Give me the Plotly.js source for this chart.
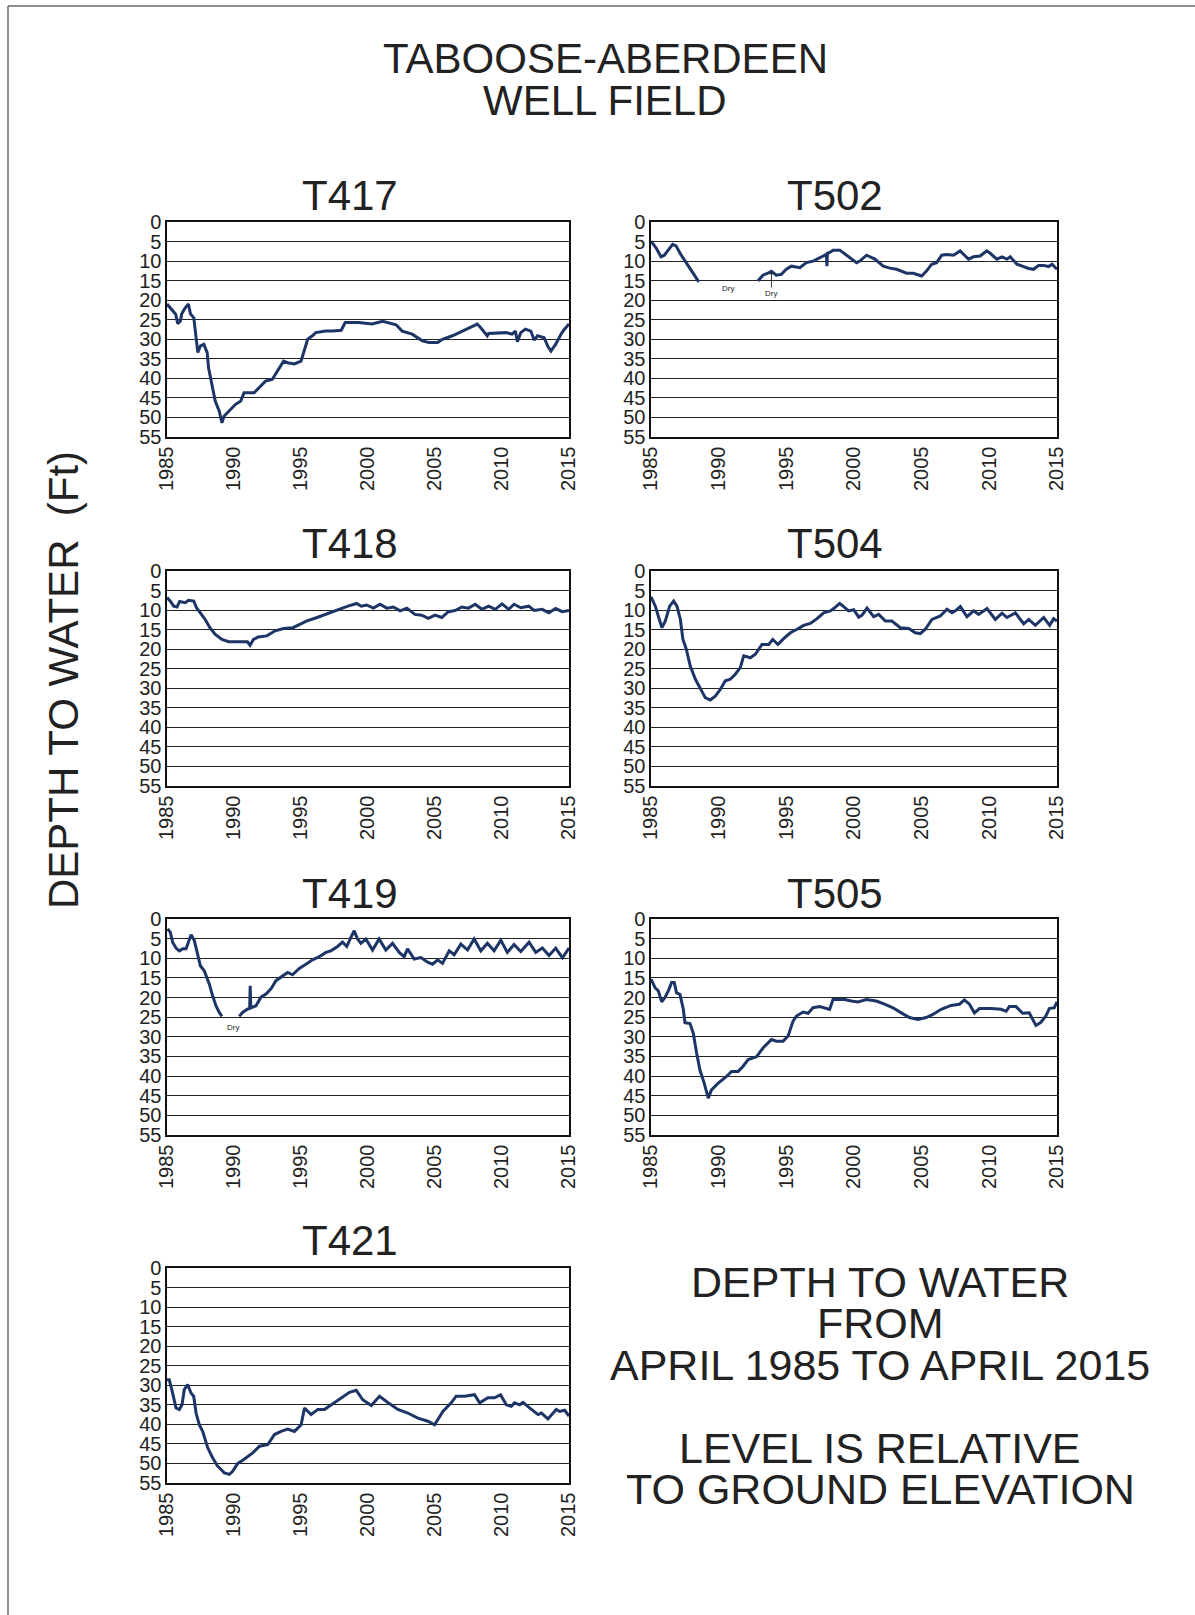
<!DOCTYPE html>
<html>
<head>
<meta charset="utf-8">
<script src="https://cdn.plot.ly/plotly-3.0.1.min.js"></script>
<style>html,body{margin:0;padding:0;background:#fff;}</style>
</head>
<body>
<div id="chart" style="width:1195px;height:1615px;"></div>
<script>
// ---------------- DATA ----------------
const yearTicks = [1985, 1990, 1995, 2000, 2005, 2010, 2015];
const depthTicks = [0, 5, 10, 15, 20, 25, 30, 35, 40, 45, 50, 55];
const wellNames = ['T417', 'T502', 'T418', 'T504', 'T419', 'T505', 'T421'];

const t417Year = [1985.0,1985.4,1985.65,1985.8,1986.0,1986.1,1986.35,1986.6,1986.75,1987.0,1987.1,1987.25,1987.3,1987.5,1987.75,1988.0,1988.1,1988.4,1988.6,1988.9,1989.1,1989.25,1989.6,1990.1,1990.5,1990.75,1991.5,1992.1,1992.35,1992.85,1993.1,1993.5,1993.7,1994.0,1994.5,1995.0,1995.2,1995.5,1995.85,1996.1,1996.85,1997.35,1998.0,1998.3,1999.3,2000.3,2001.1,2002.1,2002.55,2003.3,2004.05,2004.55,2005.2,2005.55,2006.3,2007.05,2007.55,2008.15,2008.4,2008.9,2009.0,2010.3,2010.75,2011.0,2011.15,2011.4,2011.75,2012.15,2012.4,2012.65,2013.15,2013.4,2013.65,2014.0,2014.4,2014.6,2015.0];
const t417Depth = [21.0,22.7,23.6,26.0,25.3,23.5,22.0,21.0,23.5,24.5,27.0,31.3,33.4,31.7,31.3,33.4,37.3,42.4,45.8,48.4,51.4,49.7,48.4,46.7,45.8,43.7,43.7,41.6,40.7,40.3,39.0,36.8,35.6,36.0,36.3,35.6,33.4,30.0,29.1,28.3,27.9,27.9,27.7,25.7,25.7,26.1,25.4,26.3,27.9,28.7,30.4,30.8,30.8,30.0,29.1,27.9,27.0,26.1,27.0,29.1,28.5,28.3,28.7,27.9,30.6,28.3,27.4,27.9,30.2,29.1,29.6,31.7,33.0,31.3,28.7,27.7,26.1];

const t502Year = [1985.0,1985.37,1985.74,1985.99,1986.23,1986.6,1986.85,1987.2,1987.6,1987.84,1988.2,1988.53,1990.7,1992.9,1993.27,1993.64,1993.9,1994.26,1994.63,1995.0,1995.37,1996.0,1996.48,1996.98,1997.47,1997.96,1998.0,1998.04,1998.2,1998.46,1998.95,1999.44,2000.19,2000.43,2000.93,2001.54,2002.16,2002.65,2003.15,2003.89,2004.38,2005.0,2005.37,2005.74,2006.11,2006.48,2006.85,2007.35,2007.84,2008.46,2008.83,2009.32,2009.81,2010.06,2010.56,2010.93,2011.3,2011.54,2012.04,2012.53,2012.9,2013.27,2013.64,2014.0,2014.38,2014.63,2015.0];
const t502Depth = [4.9,6.6,8.9,8.5,7.4,5.7,6.1,8.3,10.4,11.7,13.8,15.3,null,15.1,13.6,13.1,12.6,13.6,13.4,12.1,11.3,11.7,10.4,10.0,9.1,8.3,11.3,8.0,7.8,7.2,7.2,8.5,10.4,10.0,8.5,9.5,11.3,11.8,12.1,13.1,13.1,13.8,12.5,10.8,10.4,8.5,8.3,8.5,7.4,9.5,8.9,8.7,7.4,8.0,9.5,8.9,9.5,8.9,10.8,11.4,11.9,12.1,11.1,11.1,11.4,10.8,12.1];

const t418Year = [1985.0,1985.25,1985.5,1985.75,1985.94,1986.37,1986.6,1987.0,1987.2,1987.5,1987.85,1988.2,1988.6,1989.1,1989.6,1990.2,1991.0,1991.2,1991.45,1991.8,1992.45,1993.07,1993.7,1994.4,1994.93,1995.4,1996.2,1996.8,1997.4,1997.9,1998.5,1999.15,1999.5,1999.9,2000.4,2000.9,2001.4,2001.9,2002.4,2002.9,2003.5,2004.0,2004.5,2005.0,2005.5,2006.0,2006.5,2007.0,2007.5,2008.0,2008.5,2009.0,2009.5,2010.0,2010.5,2010.9,2011.4,2012.0,2012.4,2013.0,2013.5,2014.0,2014.5,2015.0];
const t418Depth = [6.8,7.7,9.0,9.2,7.8,8.1,7.5,7.7,9.4,10.7,12.4,14.5,16.2,17.5,18.1,18.1,18.1,19.0,17.5,16.9,16.6,15.3,14.7,14.5,13.5,12.8,11.9,11.1,10.4,9.8,9.0,8.3,9.0,8.7,9.5,8.5,9.5,9.2,10.2,9.5,11.1,11.3,12.1,11.3,11.9,10.4,10.1,9.2,9.5,8.5,9.8,9.0,9.8,8.4,9.8,8.5,9.4,9.0,10.1,9.8,10.7,9.6,10.4,10.1];

const t504Year = [1985.0,1985.32,1985.57,1985.81,1986.06,1986.38,1986.67,1986.92,1987.17,1987.36,1987.61,1987.9,1988.28,1988.65,1989.01,1989.38,1989.75,1990.12,1990.49,1990.86,1991.23,1991.6,1991.85,1992.34,1992.71,1993.2,1993.7,1994.0,1994.38,1994.8,1995.3,1995.79,1996.28,1996.77,1997.27,1997.76,1998.25,1998.5,1998.94,1999.24,1999.6,1999.98,2000.35,2000.6,2000.96,2001.45,2001.82,2002.32,2002.8,2003.42,2004.04,2004.53,2004.9,2005.27,2005.76,2006.38,2006.87,2007.24,2007.49,2007.86,2008.35,2008.84,2009.21,2009.83,2010.44,2010.94,2011.3,2011.92,2012.54,2012.91,2013.4,2014.02,2014.46,2014.75,2015.0];
const t504Depth = [6.6,9.0,11.9,14.5,12.8,9.0,7.7,9.0,12.4,17.5,20.0,24.3,27.7,30.3,32.4,33.0,32.0,30.3,28.1,27.7,26.4,24.7,21.7,22.2,21.3,18.8,18.8,17.5,18.8,17.3,15.8,14.9,13.9,13.4,12.2,10.7,10.2,9.6,8.3,9.1,10.2,9.9,11.8,11.3,9.5,11.7,11.1,12.8,12.8,14.5,14.7,15.8,16.0,14.9,12.4,11.5,9.8,10.7,10.2,9.1,11.7,10.2,11.1,9.6,12.4,10.8,11.9,10.7,13.5,12.4,13.9,11.9,13.9,12.2,12.8];

const t419Year = [1985.05,1985.25,1985.42,1985.67,1985.92,1986.17,1986.42,1986.62,1986.8,1987.04,1987.29,1987.49,1987.78,1988.16,1988.4,1988.65,1988.9,1989.1,1989.75,1990.39,1990.64,1991.02,1991.17,1991.21,1991.25,1991.64,1992.01,1992.38,1992.76,1993.13,1993.63,1994.0,1994.37,1994.87,1995.37,1995.86,1996.36,1996.86,1997.23,1997.73,1998.1,1998.42,1998.72,1998.97,1999.22,1999.47,1999.84,2000.34,2000.83,2001.33,2001.83,2002.33,2002.7,2002.95,2003.45,2003.95,2004.45,2004.82,2005.2,2005.56,2006.06,2006.43,2006.93,2007.43,2007.92,2008.42,2008.91,2009.41,2009.91,2010.4,2010.9,2011.4,2012.02,2012.52,2013.01,2013.51,2014.01,2014.51,2015.0];
const t419Depth = [2.5,3.4,5.9,7.4,8.1,7.6,7.6,5.5,4.0,5.5,8.9,11.9,13.2,16.6,19.5,22.1,23.8,24.8,null,24.8,23.8,22.9,22.8,17.0,22.6,22.1,19.9,19.1,17.8,15.7,14.4,13.6,14.2,12.6,11.5,10.4,9.6,8.5,8.1,7.0,5.9,7.0,4.7,3.0,5.1,6.2,5.1,7.9,5.1,7.9,6.2,8.5,9.6,7.6,10.2,9.8,11.0,11.5,10.4,11.3,8.1,9.1,6.4,7.9,5.1,8.1,6.2,8.1,5.4,8.5,6.5,8.3,5.9,8.5,7.4,9.3,7.4,9.9,7.4];

const t505Year = [1985.0,1985.3,1985.54,1985.79,1986.03,1986.28,1986.52,1986.72,1986.89,1987.14,1987.39,1987.51,1987.88,1988.12,1988.37,1988.61,1988.93,1989.23,1989.47,1989.97,1990.58,1990.95,1991.44,1991.81,1992.18,1992.79,1993.29,1993.9,1994.27,1994.76,1995.13,1995.5,1995.75,1996.24,1996.61,1996.97,1997.47,1998.2,1998.45,1999.31,1999.8,2000.29,2000.91,2001.65,2002.26,2002.88,2003.49,2004.1,2004.72,2005.33,2005.83,2006.44,2007.18,2007.79,2008.16,2008.53,2008.9,2009.27,2010.13,2010.87,2011.24,2011.48,2011.97,2012.46,2012.95,2013.44,2013.81,2014.18,2014.43,2014.8,2015.0];
const t505Depth = [15.3,17.5,18.3,21.1,20.0,18.3,16.2,16.2,18.8,19.2,23.0,26.4,26.6,29.0,34.1,38.4,41.8,45.6,43.5,41.8,40.1,38.8,38.8,37.5,35.8,35.1,32.8,30.7,31.1,31.1,29.8,26.0,24.7,23.7,24.0,22.6,22.3,23.0,20.5,20.5,20.9,21.1,20.5,20.9,21.7,22.6,23.9,25.1,25.6,25.1,24.3,23.0,22.0,21.7,20.6,21.7,23.9,22.8,22.8,23.0,23.5,22.3,22.3,24.0,23.9,27.1,26.3,24.7,22.8,22.6,21.1];

const t421Year = [1985.0,1985.17,1985.42,1985.67,1985.92,1986.12,1986.29,1986.54,1986.79,1986.99,1987.17,1987.41,1987.66,1988.04,1988.41,1988.78,1989.28,1989.66,1989.9,1990.28,1990.65,1991.02,1991.4,1991.9,1992.52,1993.02,1993.51,1994.01,1994.51,1995.01,1995.26,1995.75,1996.25,1996.75,1997.25,1997.99,1998.62,1999.12,1999.61,2000.24,2000.86,2001.48,2002.23,2002.97,2003.72,2004.47,2004.97,2005.59,2006.21,2006.58,2007.21,2007.95,2008.33,2008.95,2009.44,2009.89,2010.32,2010.69,2010.94,2011.32,2011.57,2012.06,2012.69,2012.94,2013.43,2014.05,2014.3,2014.68,2015.0];
const t421Depth = [28.6,28.6,32.0,35.8,36.2,35.0,31.1,29.8,32.0,32.8,37.1,40.1,41.8,46.0,48.6,50.7,52.4,52.8,52.0,50.0,49.2,48.3,47.3,45.6,45.2,42.6,41.8,41.2,41.8,40.1,35.8,37.5,36.2,36.2,35.0,33.2,31.8,31.3,33.7,35.2,32.8,34.4,36.2,37.1,38.4,39.2,40.1,36.7,34.5,32.8,32.8,32.4,34.5,33.2,33.2,32.4,35.0,35.4,34.5,35.0,34.4,35.8,37.5,37.1,38.6,36.2,36.7,36.4,37.9];

// "Dry" notes: panel index, year, depth of text, depth arrow points to (null = no arrow)
const dryPanel = [1, 1, 4];
const dryYear = [1990.7, 1993.9, 1989.9];
const dryTextDepth = [17.0, 18.3, 27.6];
const dryArrowDepth = [null, 12.8, null];

const mainTitleLines = ['TABOOSE-ABERDEEN', 'WELL FIELD'];
const sideLabel = 'DEPTH TO WATER\u00a0 (Ft)';
const noteLines = ['DEPTH TO WATER', 'FROM', 'APRIL 1985 TO APRIL 2015', '', 'LEVEL IS RELATIVE', 'TO GROUND ELEVATION'];

// ---------------- LAYOUT ----------------
const W = 1195, H = 1615;
const FONT = '"Liberation Sans", Arial, Helvetica, sans-serif';
const INK = '#222222';
const LINE_COLOR = '#1d3566';
const colX = {L: [167, 569], R: [651, 1057]};
const rowY = [[222, 437], [571, 786], [919, 1135], [1268, 1483]];
const titleX = {L: 350, R: 835};
const titleY = [195, 544, 893, 1240];
const px = v => v / W;
const py = v => 1 - v / H;

const panels = [
  {x: t417Year, y: t417Depth, col: 'L', row: 0},
  {x: t502Year, y: t502Depth, col: 'R', row: 0},
  {x: t418Year, y: t418Depth, col: 'L', row: 1},
  {x: t504Year, y: t504Depth, col: 'R', row: 1},
  {x: t419Year, y: t419Depth, col: 'L', row: 2},
  {x: t505Year, y: t505Depth, col: 'R', row: 2},
  {x: t421Year, y: t421Depth, col: 'L', row: 3}
];

const data = [];
const layout = {
  width: W, height: H,
  margin: {l: 0, r: 0, t: 0, b: 0},
  paper_bgcolor: '#ffffff', plot_bgcolor: '#ffffff',
  showlegend: false,
  font: {family: FONT, color: INK},
  annotations: [],
  shapes: []
};

panels.forEach((p, i) => {
  const s = i === 0 ? '' : String(i + 1);
  const xr = colX[p.col], yr = rowY[p.row];
  data.push({
    type: 'scatter', mode: 'lines', x: p.x, y: p.y,
    xaxis: 'x' + s, yaxis: 'y' + s,
    line: {color: LINE_COLOR, width: 3},
    connectgaps: false, hoverinfo: 'skip'
  });
  layout['xaxis' + s] = {
    domain: [px(xr[0]), px(xr[1])], anchor: 'y' + s,
    range: [1985, 2015], tickmode: 'array',
    tickvals: yearTicks, ticktext: yearTicks.map(String),
    tickangle: -90, ticks: '', showgrid: false, zeroline: false,
    showline: true, mirror: true, linecolor: '#111111', linewidth: 1.6,
    tickfont: {family: FONT, size: 20, color: INK}, fixedrange: true
  };
  layout['yaxis' + s] = {
    domain: [py(yr[1]), py(yr[0])], anchor: 'x' + s,
    range: [55, 0], tickmode: 'array',
    tickvals: depthTicks, ticktext: depthTicks.map(String),
    ticks: '', showgrid: true, gridcolor: '#222222', gridwidth: 1.1,
    zeroline: false, showline: true, mirror: true, linecolor: '#111111', linewidth: 1.6,
    tickfont: {family: FONT, size: 20, color: INK}, fixedrange: true
  };
  layout.annotations.push({
    xref: 'paper', yref: 'paper', x: px(titleX[p.col]), y: py(titleY[p.row]),
    xanchor: 'center', yanchor: 'middle', showarrow: false,
    text: wellNames[i], font: {family: FONT, size: 42, color: INK}
  });
});

// Dry notes
dryPanel.forEach((pi, k) => {
  const s = pi === 0 ? '' : String(pi + 1);
  if (dryArrowDepth[k] === null) {
    layout.annotations.push({
      xref: 'x' + s, yref: 'y' + s, x: dryYear[k], y: dryTextDepth[k],
      showarrow: false, text: 'Dry', font: {family: FONT, size: 8, color: INK}
    });
  } else {
    layout.annotations.push({
      xref: 'x' + s, yref: 'y' + s, x: dryYear[k], y: dryArrowDepth[k],
      ax: dryYear[k], ay: dryTextDepth[k], axref: 'x' + s, ayref: 'y' + s,
      showarrow: true, arrowhead: 1, arrowsize: 0.8, arrowwidth: 0.9, arrowcolor: INK,
      standoff: 0, startstandoff: 0,
      text: 'Dry', font: {family: FONT, size: 8, color: INK}
    });
  }
});

// Main title
const mainTitleY = [58.5, 100];
mainTitleLines.forEach((t, k) => {
  layout.annotations.push({
    xref: 'paper', yref: 'paper', x: px(605), y: py(mainTitleY[k]),
    xanchor: 'center', yanchor: 'middle', showarrow: false,
    text: t, font: {family: FONT, size: 42, color: INK}
  });
});

// Side label
layout.annotations.push({
  xref: 'paper', yref: 'paper', x: px(63), y: py(680),
  xanchor: 'center', yanchor: 'middle', showarrow: false, textangle: -90,
  text: sideLabel, font: {family: FONT, size: 42, color: INK}
});

// Note block
const noteY0 = 1281.5, notePitch = 41.5;
noteLines.forEach((t, k) => {
  if (!t) return;
  layout.annotations.push({
    xref: 'paper', yref: 'paper', x: px(880), y: py(noteY0 + k * notePitch),
    xanchor: 'center', yanchor: 'middle', showarrow: false,
    text: t, font: {family: FONT, size: 43, color: INK}
  });
});

// Page border (scanned sheet edge)
layout.shapes.push(
  {type: 'line', xref: 'paper', yref: 'paper', x0: px(8), x1: px(8), y0: 0, y1: py(6),
   line: {color: '#6a6a6a', width: 1.5}},
  {type: 'line', xref: 'paper', yref: 'paper', x0: px(8), x1: 1, y0: py(6), y1: py(6),
   line: {color: '#6a6a6a', width: 1.5}}
);

Plotly.newPlot('chart', data, layout, {staticPlot: true, displayModeBar: false});
</script>
</body>
</html>
